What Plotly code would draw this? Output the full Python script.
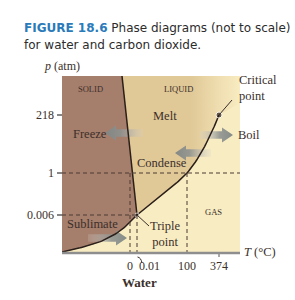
import numpy as np
import plotly.graph_objects as go

# ---------------- data ----------------
T_ticks = [0, 0.01, 100, 374]
T_tick_labels = ["0", "0.01", "100", "374"]
p_ticks = [0.006, 1, 218]
p_tick_labels = ["0.006", "1", "218"]
triple_point = (0.01, 0.006)
critical_point = (374, 218)
melt_point = (0, 1)
boil_point = (100, 1)

# ---------------- not-to-scale display scale ----------------
T_knots = [0, 0.01, 100, 374]
T_disp = [68, 75, 125, 157]
p_knots = [0.006, 1, 218]
p_disp = [38, 80, 138]
X_MAX, Y_MAX = 178, 177


def xs(T):
    return float(np.interp(T, T_knots, T_disp))


def ys(p):
    return float(np.interp(p, p_knots, p_disp))


def px(x):
    return x / X_MAX


def py(y):
    return y / Y_MAX


def smooth(pts, n=8):
    pts = np.array(pts, float)
    P = np.vstack([pts[0], pts, pts[-1]])
    out = []
    for i in range(1, len(P) - 2):
        p0, p1, p2, p3 = P[i - 1], P[i], P[i + 1], P[i + 2]
        for t in np.linspace(0, 1, n, endpoint=False):
            t2, t3 = t * t, t * t * t
            out.append(0.5 * ((2 * p1) + (-p0 + p2) * t + (2 * p0 - 5 * p1 + 4 * p2 - p3) * t2
                              + (-p0 + 3 * p1 - 3 * p2 + p3) * t3))
    out.append(P[-2])
    return np.array(out)


tx, ty = xs(triple_point[0]), ys(triple_point[1])
cx, cy = xs(critical_point[0]), ys(critical_point[1])
bx, by = xs(boil_point[0]), ys(boil_point[1])

sub_curve = smooth([(0, 1), (10, 3), (21, 6), (35, 10), (48, 16), (58, 22), (65, 28), (70, 33), (tx, ty)])
vap_curve = smooth([(tx, ty), (85, 46), (98, 56), (111, 67), (bx, by), (136, 95), (146, 113), (152, 126), (cx, cy)])
fus_top = (60, Y_MAX)

BROWN = "#a67e6c"
TAN = "#e0c897"
CREAM = "#f8ecc2"
DARK = "#3b2f2a"
GRAYAX = "#8e8e8e"
SERIF = "Liberation Serif"

fig = go.Figure()

# liquid region
liq_x = [fus_top[0]] + list(vap_curve[:, 0]) + [X_MAX, X_MAX]
liq_y = [fus_top[1]] + list(vap_curve[:, 1]) + [150, Y_MAX]
fig.add_trace(go.Scatter(
    x=liq_x, y=liq_y, fill="toself", mode="none", hoverinfo="skip",
    fillgradient=dict(type="horizontal", start=60, stop=X_MAX,
                      colorscale=[[0, TAN], [0.58, TAN], [0.8, "#eedcae"], [1, CREAM]])))

# solid region
sol_x = [0, fus_top[0]] + list(sub_curve[::-1, 0])
sol_y = [Y_MAX, fus_top[1]] + list(sub_curve[::-1, 1])
fig.add_trace(go.Scatter(x=sol_x, y=sol_y, fill="toself", fillcolor=BROWN, mode="none",
                         hoverinfo="skip"))


# arrows
def arrow(x_tail, x_tip, y, head=11, hh=7.5, sh=3.8):
    d = 1 if x_tip > x_tail else -1
    xb = x_tip - d * head
    return ([x_tail, xb, xb, x_tip, xb, xb, x_tail, x_tail],
            [y - sh, y - sh, y - hh, y, y + hh, y + sh, y + sh, y - sh])


arrows = [(81, 43, 120), (138, 171, 118), (149, 113, 100), (26, 65, 15)]
for xt, xp, yy in arrows:
    ax_, ay_ = arrow(xt, xp, yy)
    if xp < xt:
        cs = [[0, "rgba(128,134,132,0.95)"], [0.4, "rgba(140,145,143,0.88)"], [1, "rgba(210,210,205,0.2)"]]
    else:
        cs = [[0, "rgba(210,210,205,0.2)"], [0.6, "rgba(140,145,143,0.88)"], [1, "rgba(128,134,132,0.95)"]]
    fig.add_trace(go.Scatter(x=ax_, y=ay_, fill="toself", mode="none", hoverinfo="skip",
                             fillgradient=dict(type="horizontal", colorscale=cs)))

# boundary curves
fig.add_trace(go.Scatter(x=sub_curve[:, 0], y=sub_curve[:, 1], mode="lines",
                         line=dict(color="#2a1f1a", width=1.5), hoverinfo="skip"))
fig.add_trace(go.Scatter(x=vap_curve[:, 0], y=vap_curve[:, 1], mode="lines",
                         line=dict(color="#2a1f1a", width=1.5), hoverinfo="skip"))
fig.add_trace(go.Scatter(x=[fus_top[0], tx], y=[fus_top[1], ty], mode="lines",
                         line=dict(color="#2a1f1a", width=1.5), hoverinfo="skip"))

# points
fig.add_trace(go.Scatter(x=[tx, cx], y=[ty, cy], mode="markers",
                         marker=dict(color="#2a1f1a", size=[4, 6]), hoverinfo="skip"))
# triple point leader
fig.add_trace(go.Scatter(x=[tx, 87], y=[ty, 27], mode="lines", line=dict(color=DARK, width=1),
                         hoverinfo="skip"))

# ---------------- shapes in paper coords (not clipped) ----------------
shapes = []
dash = dict(color="#4a3a32", width=1, dash="4px,3px")


def seg(x0, y0, x1, y1, line):
    shapes.append(dict(type="line", xref="paper", yref="paper",
                       x0=px(x0), y0=py(y0), x1=px(x1), y1=py(y1), line=line, layer="above"))


seg(0, ys(1), X_MAX, ys(1), dash)
seg(0, ty, tx, ty, dash)
for T, ptop in [melt_point, triple_point, boil_point]:
    seg(xs(T), ys(ptop), xs(T), -4, dash)

# x axis line and tick
seg(0, 0, X_MAX, 0, dict(color=GRAYAX, width=2.5))
seg(xs(374), 0, xs(374), -4, dict(color=GRAYAX, width=1.5))
# y ticks
for p in p_ticks:
    seg(-5, ys(p), 0, ys(p), dict(color="#444", width=1.3))
# critical point leader
seg(cx, cy, 170, 153, dict(color=DARK, width=1))
# hook for 0.01 label
shapes.append(dict(type="path", xref="paper", yref="paper",
                   path=f"M {px(80)},{py(-10)} Q {px(79)},{py(-4.5)} {px(75.5)},{py(-4)}",
                   line=dict(color=DARK, width=1), layer="above"))

ann = []


def text(x, y, s, size=11, xanchor="center", color=DARK, family=SERIF, align="center", paper=False):
    if paper:
        x, y, xref, yref = px(x), py(y), "paper", "paper"
    else:
        xref, yref = "x", "y"
    ann.append(dict(x=x, y=y, text=s, showarrow=False, xanchor=xanchor, yanchor="middle",
                    font=dict(family=family, size=size, color=color), xref=xref, yref=yref, align=align))


# tick labels
tick_x_shift = {"0": 0, "0.01": 12, "100": 0, "374": 0}
for T, lab in zip(T_ticks, T_tick_labels):
    text(xs(T) + tick_x_shift[lab], -12.5, lab, size=12, paper=True)
for p, lab in zip(p_ticks, p_tick_labels):
    text(-6, ys(p), lab, size=12, xanchor="right", paper=True)

text(28, 164, "SOLID", size=8.5)
text(116, 164, "LIQUID", size=8.5)
text(151, 41, "GAS", size=8.5)
text(103, 137, "Melt", size=12.5)
text(28, 119, "Freeze", size=12.5)
text(174, 118, "Boil", size=12.5, xanchor="left", paper=True)
text(100, 90, "Condense", size=12.5)
text(30, 29, "Sublimate", size=12.5)
text(103, 19, "Triple<br>point", size=12.5)
text(175, 165, "Critical<br>point", size=12.5, xanchor="left", align="left", paper=True)
text(180, 1, "<i>T</i> (°C)", size=12.5, xanchor="left", paper=True)
text(-20, 187, "<i>p</i> (atm)", size=12, xanchor="left", paper=True)
text(77, -29, "<b>Water</b>", size=13, paper=True)

# title
TITLE_FONT = "DejaVu Sans"
text(-40, 225, "<span style='color:#2b7bbb'><b>FIGURE 18.6</b></span> Phase diagrams (not to scale)",
     size=12, xanchor="left", color="#2c2c2c", family=TITLE_FONT, align="left", paper=True)
text(-40, 208, "for water and carbon dioxide.",
     size=12, xanchor="left", color="#2c2c2c", family=TITLE_FONT, align="left", paper=True)

fig.update_layout(
    width=295, height=300, autosize=False,
    margin=dict(l=62, r=55, t=76, b=47, pad=0),
    paper_bgcolor="white", plot_bgcolor=CREAM,
    showlegend=False,
    xaxis=dict(range=[0, X_MAX], visible=False, fixedrange=True),
    yaxis=dict(range=[0, Y_MAX], visible=False, fixedrange=True),
    annotations=ann,
    shapes=shapes,
)

fig.write_html("out.html", config={"displayModeBar": False})
